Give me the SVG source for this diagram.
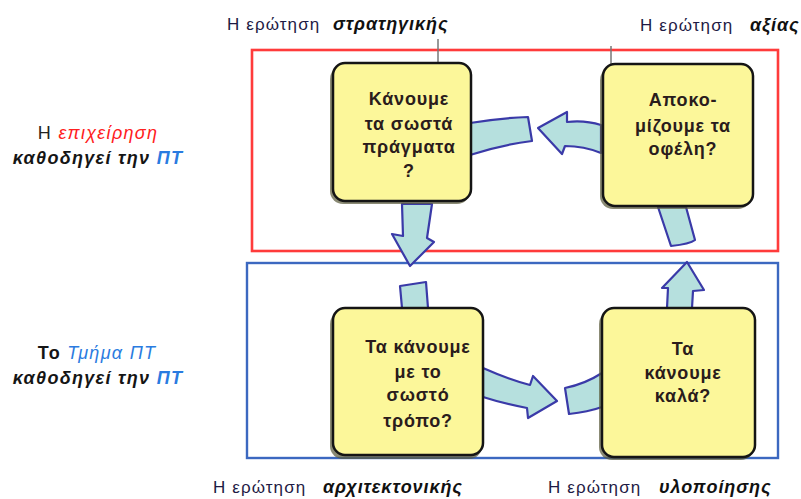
<svg xmlns="http://www.w3.org/2000/svg" width="801" height="499" viewBox="0 0 801 499">
<style>
.lbl{font-family:"Liberation Sans",Arial,sans-serif;font-size:17px;fill:#1e1a44;letter-spacing:1.1px}
.em{font-weight:bold;font-style:italic;fill:#111;font-size:18px;letter-spacing:0.9px}
.side{font-family:"Liberation Sans",Arial,sans-serif;font-size:18px;letter-spacing:1.3px;text-anchor:middle}
.box{fill:#fcf79a;stroke:#151515;stroke-width:2.5}
.shadow{fill:#5a5a3a;opacity:0.7}
.bt{font-family:"Liberation Sans",Arial,sans-serif;font-size:18px;font-weight:bold;fill:#2a1c1c;text-anchor:middle;letter-spacing:0.8px}
.arr{fill:#b6e0de;stroke:#3a3aa8;stroke-width:2.2;stroke-linejoin:round}
</style>
<rect width="801" height="499" fill="#fff"/>
<g id="frames">
<rect x="252" y="50" width="526" height="201" fill="none" stroke="#ff3b3b" stroke-width="2.6"/>
<rect x="247" y="263" width="531" height="195" fill="none" stroke="#3c68c0" stroke-width="2.4"/>
<line x1="438" y1="39" x2="438" y2="62" stroke="#777" stroke-width="1.5"/>
<line x1="611" y1="46" x2="611" y2="64" stroke="#777" stroke-width="1.5"/>
</g>
<g id="labels">
<text class="lbl" x="227" y="30">Η ερώτηση<tspan class="em" x="333">στρατηγικής</tspan></text>
<text class="lbl" x="640" y="31">Η ερώτηση<tspan class="em" x="750">αξίας</tspan></text>
<text class="lbl" x="213" y="493">Η ερώτηση<tspan class="em" x="323">αρχιτεκτονικής</tspan></text>
<text class="lbl" x="548" y="493">Η ερώτηση<tspan class="em" x="659">υλοποίησης</tspan></text>
<text class="side" x="98" y="139"><tspan fill="#222">Η </tspan><tspan fill="#ff2020" font-style="italic">επιχείρηση</tspan></text>
<text class="side" x="98" y="164" font-style="italic" font-weight="bold"><tspan fill="#151515">καθοδηγεί την </tspan><tspan fill="#2a7be0">ΠΤ</tspan></text>
<text class="side" x="97" y="359"><tspan fill="#151515" font-weight="bold">Το </tspan><tspan fill="#2a7be0" font-style="italic">Τμήμα ΠΤ</tspan></text>
<text class="side" x="98" y="384" font-style="italic" font-weight="bold"><tspan fill="#151515">καθοδηγεί την </tspan><tspan fill="#2a7be0">ΠΤ</tspan></text>
</g>
<g id="connectors">
<path class="arr" d="M538,128 L567,112 L567,122 Q585,120 601,125 L601,153 Q584,146 565,146 L562,154 Z"/>
<path class="arr" d="M470,123 Q500,118 528,117 L532,141 Q500,145 470,155 Z"/>
<path class="arr" d="M402,204 L432,204 L427,238 L434,242 L410,266 L392,234 L403,236 Z"/>
<path class="arr" d="M400,286 L426,282 L428,308 L402,308 Z"/>
<path class="arr" d="M667,308 L668,288 L662,288 L687,262 L704,290 L693,291 L692,308 Z"/>
<path class="arr" d="M658,207 L686,207 L695,240 Q690,244 671,246 Z"/>
<path class="arr" d="M483,368 Q510,380 530,385 L533,376 L557,401 L528,418 L527,408 Q505,404 483,397 Z"/>
<path class="arr" d="M565,388 Q585,384 602,373 L602,407 Q588,412 569,414 Z"/>
</g>
<g id="n1">
<rect class="shadow" x="330" y="66" width="140" height="138" rx="13"/>
<rect class="box" x="333" y="63" width="138" height="138" rx="12"/>
<text class="bt" x="409" y="105">Κάνουμε</text>
<text class="bt" x="409" y="130">τα σωστά</text>
<text class="bt" x="409" y="153">πράγματα</text>
<text class="bt" x="409" y="177">?</text>
</g>
<g id="n2">
<rect class="shadow" x="600" y="67" width="151" height="142" rx="13"/>
<rect class="box" x="603" y="64" width="150" height="142" rx="12"/>
<text class="bt" x="683" y="106">Αποκο-</text>
<text class="bt" x="683" y="132">μίζουμε τα</text>
<text class="bt" x="683" y="155">οφέλη?</text>
</g>
<g id="n3">
<rect class="shadow" x="330" y="311" width="152" height="148" rx="13"/>
<rect class="box" x="333" y="308" width="150" height="147" rx="12"/>
<text class="bt" x="418" y="353">Τα κάνουμε</text>
<text class="bt" x="418" y="378">με το</text>
<text class="bt" x="418" y="401">σωστό</text>
<text class="bt" x="418" y="427">τρόπο?</text>
</g>
<g id="n4">
<rect class="shadow" x="599" y="311" width="155" height="149" rx="13"/>
<rect class="box" x="602" y="308" width="153" height="149" rx="12"/>
<text class="bt" x="683" y="355">Τα</text>
<text class="bt" x="683" y="379">κάνουμε</text>
<text class="bt" x="683" y="402">καλά?</text>
</g>
</svg>
